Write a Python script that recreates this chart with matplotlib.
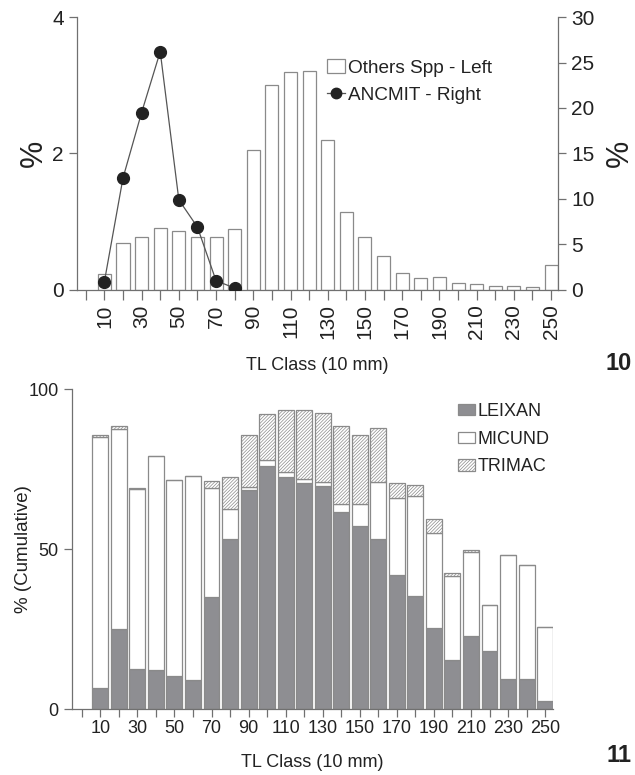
import numpy as np
import matplotlib.pyplot as plt
from matplotlib.patches import Patch
from matplotlib.lines import Line2D

plt.rcParams['font.family'] = ['Liberation Sans', 'DejaVu Sans']
plt.rcParams['hatch.linewidth'] = 0.5

# TL classes (10 mm)
classes = np.arange(10, 260, 10)
xticklabels = [str(v) for v in range(10, 260, 20)]

# Fig 10: other species (left axis, %) and ANCMIT (right axis, %)
others_spp = [0.23, 0.68, 0.78, 0.90, 0.86, 0.78, 0.77, 0.89, 2.05, 3.01,
              3.20, 3.21, 2.20, 1.14, 0.78, 0.49, 0.24, 0.18, 0.19, 0.10,
              0.08, 0.06, 0.05, 0.04, 0.36]
ancmit_classes = [10, 20, 30, 40, 50, 60, 70, 80]
ancmit = [0.9, 12.3, 19.5, 26.2, 9.9, 6.9, 1.0, 0.2]

# Fig 11: cumulative % per species
leixan = [6.5, 25.0, 12.4, 12.3, 10.3, 9.1, 34.9, 53.3, 68.4, 76.1,
          72.4, 70.7, 69.7, 61.5, 57.2, 53.3, 41.8, 35.2, 25.5, 15.3,
          23.0, 18.3, 9.3, 9.3, 2.4]
micund = [78.6, 62.4, 56.4, 66.7, 61.2, 63.7, 34.2, 9.1, 1.1, 1.6,
          1.6, 1.1, 1.3, 2.7, 7.0, 17.7, 24.2, 31.3, 29.5, 26.4,
          26.2, 14.1, 38.7, 35.8, 23.3]
trimac = [0.7, 0.9, 0.4, 0.0, 0.0, 0.0, 2.3, 10.1, 16.0, 14.5,
          19.5, 21.7, 21.6, 24.1, 21.3, 16.9, 4.7, 3.5, 4.3, 0.8,
          0.4, 0.0, 0.0, 0.0, 0.0]

edge = '#8a8a8a'
axis_col = '#707070'
text_col = '#222222'

fig = plt.figure(figsize=(6.35, 7.75), dpi=100)


def style_axis(ax, spines):
    for s in ['left', 'right', 'top', 'bottom']:
        ax.spines[s].set_visible(s in spines)
        ax.spines[s].set_color(axis_col)
        ax.spines[s].set_linewidth(0.9)
    ax.tick_params(colors=axis_col, labelcolor=text_col, length=6, width=0.9)


tick_text = ['' if (v % 20 == 0) else str(v) for v in range(0, 260, 10)]

# ---- Fig 10 ----
ax1 = fig.add_axes([0.121, 0.626, 0.758, 0.352])
ax1.bar(classes, others_spp, width=7, color='white', edgecolor=edge, linewidth=0.9)
ax1.set_xlim(-4.8, 253.8)
ax1.set_ylim(0, 4)
ax1.set_yticks([0, 2, 4])
ax1.set_xticks(np.arange(0, 260, 10))
ax1.set_xticklabels(tick_text, rotation=90)
ax1.tick_params(axis='both', labelsize=15)
ax1.set_ylabel('%', fontsize=22, color=text_col, labelpad=2)
ax1.set_xlabel('TL Class (10 mm)', fontsize=13, color=text_col, labelpad=13)
style_axis(ax1, ['left', 'bottom'])
ax1.tick_params(axis='x', length=7)

ax2 = ax1.twinx()
ax2.plot(ancmit_classes, ancmit, color='#555555', linewidth=0.9,
         marker='o', markersize=8.5, markerfacecolor='#222222',
         markeredgecolor='#222222')
ax2.set_ylim(0, 30)
ax2.set_yticks(range(0, 31, 5))
ax2.tick_params(axis='y', labelsize=15)
ax2.set_ylabel('%', fontsize=22, color=text_col, labelpad=7)
style_axis(ax2, ['right'])

handles = [Patch(facecolor='white', edgecolor=edge, linewidth=0.9),
           Line2D([], [], color='#555555', linewidth=0.9, marker='o',
                  markersize=7.5, markerfacecolor='#222222', markeredgecolor='#222222')]
ax2.legend(handles, ['Others Spp - Left', 'ANCMIT - Right'], loc='upper left',
           bbox_to_anchor=(0.52, 0.845), frameon=False, fontsize=13.7,
           handlelength=0.95, handleheight=0.75, handletextpad=0.15,
           labelspacing=0.5, borderaxespad=0, borderpad=0, labelcolor=text_col)

fig.text(0.995, 1 - 363 / 775, '10', fontsize=17, fontweight='bold',
         ha='right', va='center', color=text_col)

# ---- Fig 11 ----
ax3 = fig.add_axes([0.113, 0.085, 0.758, 0.413])
leixan = np.array(leixan)
micund = np.array(micund)
trimac = np.array(trimac)
ax3.bar(classes, leixan, width=8.6, color='#8e8e92', edgecolor=edge, linewidth=0.9,
        label='LEIXAN')
ax3.bar(classes, micund, width=8.6, bottom=leixan, color='white', edgecolor=edge,
        linewidth=0.9, label='MICUND')
ax3.bar(classes, trimac, width=8.6, bottom=leixan + micund, color='white',
        edgecolor=edge, linewidth=0.9, hatch='//////////', label='TRIMAC')
ax3.set_xlim(-5.4, 254.3)
ax3.set_ylim(0, 100)
ax3.set_yticks([0, 50, 100])
ax3.set_xticks(np.arange(0, 260, 10))
ax3.set_xticklabels(tick_text)
ax3.tick_params(axis='both', labelsize=13)
ax3.tick_params(axis='x', pad=2)
ax3.set_ylabel('% (Cumulative)', fontsize=13.5, color=text_col)
ax3.yaxis.set_label_coords(-0.083, 0.5)
ax3.set_xlabel('TL Class (10 mm)', fontsize=13, color=text_col, labelpad=12)
style_axis(ax3, ['left', 'bottom'])
ax3.legend(loc='upper left', bbox_to_anchor=(0.802, 0.957), frameon=False,
           fontsize=13, handlelength=0.95, handleheight=0.6, handletextpad=0.15,
           labelspacing=0.6, borderaxespad=0, borderpad=0, labelcolor=text_col)

fig.text(0.995, 1 - 756 / 775, '11', fontsize=17, fontweight='bold',
         ha='right', va='center', color=text_col)

plt.savefig('out.png', dpi=100)
